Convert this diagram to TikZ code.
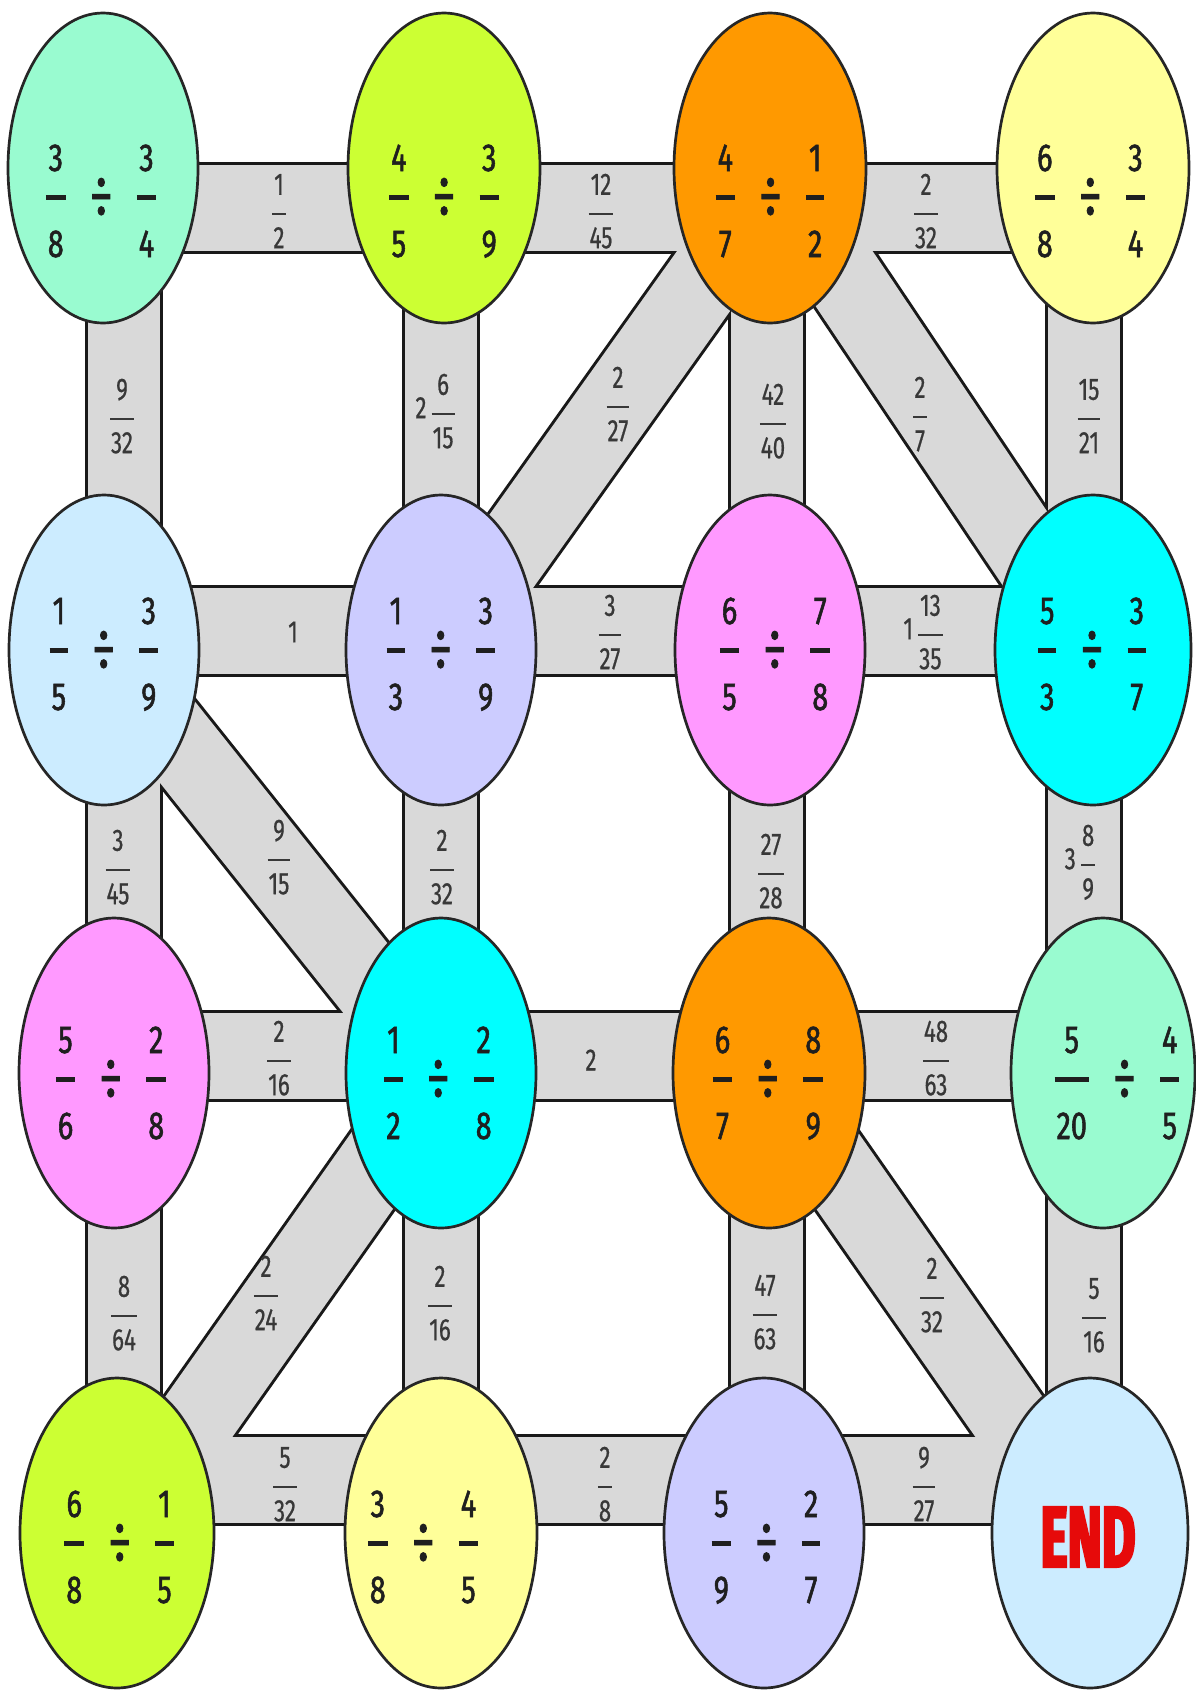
\documentclass[tikz,border=0pt]{standalone}
\usepackage{fontspec}
\usetikzlibrary{shapes.geometric}
\newfontfamily\bigf[FakeStretch=0.74,FakeBold=1.4]{Fira Sans}
\newfontfamily\labf[FakeStretch=0.72,FakeBold=0.6]{Fira Sans}
\newfontfamily\endf[FakeStretch=0.6,FakeBold=3]{Fira Sans}
\definecolor{cmint}{RGB}{153,251,208}
\definecolor{clime}{RGB}{204,255,51}
\definecolor{corange}{RGB}{255,153,0}
\definecolor{cyellow}{RGB}{255,255,153}
\definecolor{clblue}{RGB}{204,236,255}
\definecolor{clav}{RGB}{204,204,255}
\definecolor{cpink}{RGB}{255,153,255}
\definecolor{ccyan}{RGB}{0,255,255}
\definecolor{bandgray}{RGB}{217,217,217}
\definecolor{endred}{RGB}{230,10,10}
% big fraction inside the balls
\newcommand\efr[2]{{\renewcommand\arraystretch{0}\setlength\arrayrulewidth{2.5pt}\setlength\tabcolsep{1pt}%
  \begin{tabular}[c]{c}\rule[-11.75pt]{0pt}{26.75pt}#1\\\hline\rule[-1pt]{0pt}{29.75pt}#2\end{tabular}}}
% small fraction on the bands
\newcommand\lfr[2]{{\renewcommand\arraystretch{0}\setlength\arrayrulewidth{1.2pt}\setlength\tabcolsep{0.5pt}%
  \begin{tabular}[c]{c}\rule[-9pt]{0pt}{20.5pt}#1\\\hline\rule[-1pt]{0pt}{17.5pt}#2\end{tabular}}}
\newcommand\dv{\hspace{12pt}\raisebox{-3.5pt}{\scalebox{1.6}{÷}}\hspace{12pt}}
\newcommand\ex[4]{\efr{#1}{#2}\dv\efr{#3}{#4}}
\pgfdeclarelayer{paper}
\pgfdeclarelayer{bandline}
\pgfdeclarelayer{bandfill}
\pgfsetlayers{paper,bandline,bandfill,main}
\begin{document}
\begin{tikzpicture}[x=0.5pt,y=-0.5pt,
  ball/.style 2 args={ellipse, draw=black!85, line width=1.35pt, inner sep=0pt, outer sep=0pt, minimum width=#1pt, minimum height=#2pt},
  etext/.style={font=\bigf\fontsize{19.5}{23.4}\selectfont, text=black!88, inner sep=0pt},
  lab/.style={font=\labf\fontsize{15.5}{18.6}\selectfont, text=black!78, inner sep=0pt},
  hout/.style={line width=46pt, draw=black!90},
  hin/.style={line width=43pt, draw=bandgray},
  vout/.style={line width=39pt, draw=black!90},
  vin/.style={line width=36pt, draw=bandgray},
  dout/.style={line width=42pt, draw=black!90},
  din/.style={line width=39pt, draw=bandgray}]
\useasboundingbox (0,0) rectangle (1195,1693);
\begin{pgfonlayer}{paper}
\fill[white] (0,0) rectangle (1195,1693);
\end{pgfonlayer}
% band axes
\coordinate (h1) at (0,208);
\coordinate (h2) at (0,631);
\coordinate (h3) at (0,1056);
\coordinate (h4) at (0,1480);
\coordinate (v1) at (124,0);
\coordinate (v2) at (441,0);
\coordinate (v3) at (767,0);
\coordinate (v4) at (1084,0);
% ellipses
\node[ball={95}{155}, fill=cmint]   (e11) at (103,168) {};
\node[ball={96}{155}, fill=clime]   (e12) at (444,168) {};
\node[ball={96}{155}, fill=corange] (e13) at (770,168) {};
\node[ball={96}{155}, fill=cyellow] (e14) at (1093,168) {};
\node[ball={95}{155}, fill=clblue]  (e21) at (104,650) {};
\node[ball={95}{155}, fill=clav]    (e22) at (441,650) {};
\node[ball={95}{155}, fill=cpink]   (e23) at (770,650) {};
\node[ball={98}{155}, fill=ccyan]   (e24) at (1093,650) {};
\node[ball={95}{155}, fill=cpink]   (e31) at (114,1073) {};
\node[ball={95}{155}, fill=ccyan]   (e32) at (441,1073) {};
\node[ball={96}{155}, fill=corange] (e33) at (769,1073) {};
\node[ball={92}{155}, fill=cmint]   (e34) at (1103,1073) {};
\node[ball={97}{155}, fill=clime]   (e41) at (117,1533) {};
\node[ball={96}{155}, fill=cyellow] (e42) at (441,1533) {};
\node[ball={100}{155}, fill=clav]   (e43) at (764,1533) {};
\node[ball={98}{155}, fill=clblue]  (e44) at (1090,1533) {};
% bands: outlines first, then the grey fill on top
\begin{pgfonlayer}{bandline}
\foreach \r in {1,...,4}{\foreach \c/\d in {1/2,2/3,3/4}{\draw[hout] (e\r\c.center |- h\r) -- (e\r\d.center |- h\r);}}
\foreach \c in {1,...,4}{\foreach \r/\s in {1/2,2/3,3/4}{\draw[vout] (e\r\c.center -| v\c) -- (e\s\c.center -| v\c);}}
\draw[dout] ([xshift=7pt]e13.center) -- (e22.center);
\foreach \a/\b in {e13/e24,e21/e32,e32/e41,e33/e44}{\draw[dout] (\a.center) -- (\b.center);}
\end{pgfonlayer}
\begin{pgfonlayer}{bandfill}
\foreach \r in {1,...,4}{\foreach \c/\d in {1/2,2/3,3/4}{\draw[hin] (e\r\c.center |- h\r) -- (e\r\d.center |- h\r);}}
\foreach \c in {1,...,4}{\foreach \r/\s in {1/2,2/3,3/4}{\draw[vin] (e\r\c.center -| v\c) -- (e\s\c.center -| v\c);}}
\draw[din] ([xshift=7pt]e13.center) -- (e22.center);
\foreach \a/\b in {e13/e24,e21/e32,e32/e41,e33/e44}{\draw[din] (\a.center) -- (\b.center);}
\end{pgfonlayer}
% ellipse texts
\node[etext] (t11) at (101,200) {\ex{3}{8}{3}{4}};
\node[etext] (t12) at (444,200) {\ex{4}{5}{3}{9}};
\node[etext] (t13) at (770,200) {\ex{4}{7}{1}{2}};
\node[etext] (t14) at (1090,200) {\ex{6}{8}{3}{4}};
\node[etext] (t21) at (104,653) {\ex{1}{5}{3}{9}};
\node[etext] (t22) at (441,653) {\ex{1}{3}{3}{9}};
\node[etext] (t23) at (775,653) {\ex{6}{5}{7}{8}};
\node[etext] (t24) at (1092,653) {\ex{5}{3}{3}{7}};
\node[etext] (t31) at (111,1082) {\ex{5}{6}{2}{8}};
\node[etext] (t32) at (439,1082) {\ex{1}{2}{2}{8}};
\node[etext] (t33) at (768,1082) {\ex{6}{7}{8}{9}};
\node[etext] (t34) at (1117,1082) {\ex{5}{20}{4}{5}};
\node[etext] (t41) at (119,1546) {\ex{6}{8}{1}{5}};
\node[etext] (t42) at (423,1546) {\ex{3}{8}{4}{5}};
\node[etext] (t43) at (766,1546) {\ex{5}{9}{2}{7}};
\node[font=\endf\bfseries\fontsize{43}{43}\selectfont, text=endred, inner sep=0pt] (t44) at (1088,1537) {END};
% band labels
\node[lab] (lh11) at (279,211) {\lfr{1}{2}};
\node[lab] (lh12) at (601,211) {\lfr{12}{45}};
\node[lab] (lh13) at (926,211) {\lfr{2}{32}};
\node[lab] (lh21) at (293,632) {1};
\node[lab] (lh22) at (610,632) {\lfr{3}{27}};
\node[lab] (lh23) at (923,632) {1\,\lfr{13}{35}};
\node[lab] (lh31) at (279,1058) {\lfr{2}{16}};
\node[lab] (lh32) at (591,1060) {2};
\node[lab] (lh33) at (936,1058) {\lfr{48}{63}};
\node[lab] (lh41) at (285,1484) {\lfr{5}{32}};
\node[lab] (lh42) at (605,1484) {\lfr{2}{8}};
\node[lab] (lh43) at (924,1484) {\lfr{9}{27}};
\node[lab] (lv11) at (122,416) {\lfr{9}{32}};
\node[lab] (lv12) at (118,867) {\lfr{3}{45}};
\node[lab] (lv13) at (124,1313) {\lfr{8}{64}};
\node[lab] (lv21) at (435,411) {2\,\lfr{6}{15}};
\node[lab] (lv22) at (442,867) {\lfr{2}{32}};
\node[lab] (lv23) at (440,1303) {\lfr{2}{16}};
\node[lab] (lv31) at (773,421) {\lfr{42}{40}};
\node[lab] (lv32) at (771,871) {\lfr{27}{28}};
\node[lab] (lv33) at (765,1312) {\lfr{47}{63}};
\node[lab] (lv41) at (1089,416) {\lfr{15}{21}};
\node[lab] (lv42) at (1080,862) {3\,\lfr{8}{9}};
\node[lab] (lv43) at (1094,1315) {\lfr{5}{16}};
\node[lab] (ld1) at (618,404) {\lfr{2}{27}};
\node[lab] (ld2) at (920,414) {\lfr{2}{7}};
\node[lab] (ld3) at (279,857) {\lfr{9}{15}};
\node[lab] (ld4) at (266,1293) {\lfr{2}{24}};
\node[lab] (ld5) at (932,1295) {\lfr{2}{32}};
\end{tikzpicture}
\end{document}
